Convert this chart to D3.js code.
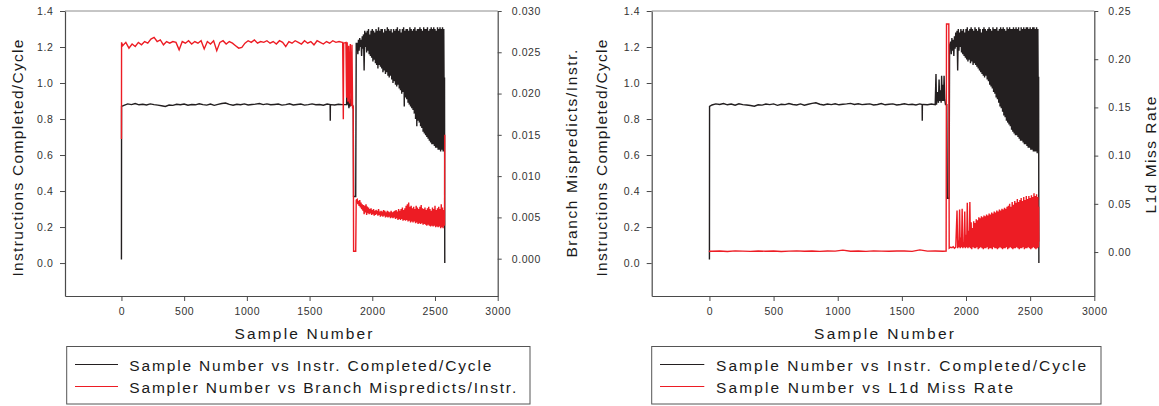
<!DOCTYPE html>
<html><head><meta charset="utf-8">
<script src="https://cdn.jsdelivr.net/npm/d3@7"></script>
<style>
body{margin:0;background:#fff;}
svg{display:block;font-family:"Liberation Sans",Arial,sans-serif;}
</style></head><body>
<svg id="chart" width="1159" height="406"></svg>
<script>
// ---------------- DATA ----------------
const xTicks = [0, 500, 1000, 1500, 2000, 2500, 3000];
const ipcTicks = [0, 0.2, 0.4, 0.6, 0.8, 1.0, 1.2, 1.4];
const branchTicks = [0, 0.005, 0.010, 0.015, 0.020, 0.025, 0.030];
const l1dTicks = [0, 0.05, 0.10, 0.15, 0.20, 0.25];

const xTitle = "Sample Number";
const ipcTitle = "Instructions Completed/Cycle";
const branchTitle = "Branch Mispredicts/Instr.";
const l1dTitle = "L1d Miss Rate";
const legendLeft = ["Sample Number vs Instr. Completed/Cycle", "Sampler Number vs Branch Mispredicts/Instr."];
const legendRight = ["Sample Number vs Instr. Completed/Cycle", "Sample Number vs L1d Miss Rate"];

// Left panel, IPC (black) – steady part sampled every 30 samples from 20
const ipcA_flat = [
  0.876,0.884,0.880,0.886,0.879,0.882,0.878,0.884,0.880,0.877,
  0.874,0.870,0.878,0.876,0.882,0.879,0.883,0.877,0.881,0.879,
  0.885,0.880,0.877,0.883,0.876,0.881,0.886,0.889,0.881,0.877,
  0.882,0.879,0.884,0.878,0.881,0.883,0.886,0.880,0.884,0.879,
  0.881,0.883,0.877,0.880,0.885,0.878,0.881,0.883,0.877,0.880,
  0.884,0.879,0.881,0.877,0.883,0.880,0.878,0.882,0.880,0.881];
const ipcA_marks = [[0,0.02],[1,0.87],[1664,0.88],[1665,0.79],[1666,0.88],[1795,0.88],[1797,0.97],[1800,0.88],
  [1808,0.90],[1814,0.86],[1820,0.93],[1826,0.87],[1833,0.91],[1840,0.88],[1848,0.87],[1851,0.37],[1868,0.37],
  [1872,1.22],[2576,1.03],[2578,0.0]];
// oscillating part, every 10 samples from 1880: peaks and troughs
const ipcA_hi = [
  1.22,1.24,1.25,1.24,1.26,1.27,1.29,1.28,1.29,1.30,
  1.27,1.29,1.30,1.29,1.28,1.30,1.29,1.31,1.29,1.30,
  1.30,1.28,1.30,1.29,1.31,1.30,1.29,1.30,1.28,1.30,
  1.29,1.30,1.31,1.29,1.30,1.28,1.30,1.31,1.29,1.30,
  1.30,1.29,1.31,1.30,1.29,1.30,1.31,1.29,1.30,1.30,
  1.31,1.30,1.29,1.31,1.30,1.30,1.31,1.29,1.30,1.31,
  1.30,1.31,1.30,1.29,1.31,1.30,1.31,1.30,1.31,1.30];
const ipcA_lo = [
  1.16,1.18,1.20,1.15,1.19,1.07,1.20,1.17,1.18,1.16,
  1.15,1.14,1.12,1.13,1.11,1.10,1.08,1.10,1.09,1.08,
  1.06,1.07,1.05,1.06,1.04,1.03,1.04,1.02,1.00,1.01,
  0.99,0.98,0.99,0.97,0.96,0.94,0.95,0.87,0.92,0.91,
  0.89,0.88,0.87,0.86,0.85,0.83,0.80,0.76,0.79,0.78,
  0.76,0.75,0.73,0.72,0.71,0.70,0.69,0.68,0.67,0.66,
  0.66,0.65,0.64,0.64,0.63,0.63,0.62,0.63,0.62,0.62];

// Left panel, branch mispredicts (red) – steady part every 25 samples from 10
const branch_flat = [
  0.0258,0.0262,0.0255,0.0260,0.0257,0.0262,0.0259,0.0263,0.0261,0.0266,
  0.0268,0.0263,0.0265,0.0259,0.0263,0.0261,0.0263,0.0262,0.0253,0.0263,
  0.0261,0.0264,0.0260,0.0263,0.0261,0.0264,0.0254,0.0263,0.0260,0.0264,
  0.0252,0.0262,0.0264,0.0260,0.0263,0.0261,0.0258,0.0255,0.0256,0.0261,
  0.0264,0.0262,0.0265,0.0261,0.0263,0.0262,0.0264,0.0261,0.0263,0.0260,
  0.0264,0.0262,0.0257,0.0263,0.0261,0.0264,0.0262,0.0260,0.0264,0.0261,
  0.0263,0.0259,0.0264,0.0262,0.0260,0.0263,0.0261,0.0264,0.0262,0.0263,
  0.0262];
const branch_marks = [[0,0.0145],[1,0.0262],[1764,0.0262],[1769,0.0169],[1772,0.0261],[1790,0.0262],[1795,0.0195],
  [1800,0.0262],[1806,0.0190],[1812,0.0258],[1818,0.0188],[1825,0.0260],[1832,0.0185],[1838,0.0259],[1843,0.0182],
  [1848,0.0185],[1851,0.0009],[1868,0.0009],[1872,0.0071],[2576,0.0041],[2578,0.0150]];
const branch_hi = [
  0.0072,0.0070,0.0071,0.0068,0.0066,0.0065,0.0064,0.0066,0.0063,0.0062,
  0.0060,0.0061,0.0059,0.0060,0.0058,0.0059,0.0058,0.0060,0.0057,0.0058,
  0.0057,0.0059,0.0058,0.0056,0.0058,0.0057,0.0056,0.0058,0.0056,0.0057,
  0.0058,0.0059,0.0057,0.0060,0.0058,0.0060,0.0062,0.0059,0.0061,0.0064,
  0.0066,0.0068,0.0063,0.0064,0.0061,0.0063,0.0060,0.0064,0.0062,0.0060,
  0.0063,0.0065,0.0061,0.0060,0.0062,0.0059,0.0061,0.0063,0.0060,0.0058,
  0.0062,0.0060,0.0064,0.0059,0.0061,0.0063,0.0060,0.0066,0.0062,0.0059];
const branch_lo = [
  0.0066,0.0064,0.0062,0.0060,0.0058,0.0054,0.0056,0.0053,0.0055,0.0054,
  0.0055,0.0053,0.0054,0.0052,0.0053,0.0054,0.0052,0.0053,0.0051,0.0052,
  0.0051,0.0052,0.0050,0.0051,0.0050,0.0051,0.0049,0.0050,0.0049,0.0050,
  0.0048,0.0049,0.0047,0.0048,0.0047,0.0048,0.0046,0.0047,0.0046,0.0047,
  0.0045,0.0046,0.0044,0.0045,0.0044,0.0045,0.0043,0.0044,0.0042,0.0043,
  0.0042,0.0043,0.0041,0.0042,0.0041,0.0040,0.0041,0.0040,0.0039,0.0040,
  0.0039,0.0040,0.0038,0.0039,0.0038,0.0039,0.0037,0.0038,0.0037,0.0040];

// Right panel, IPC (black)
const ipcB_flat = [
  0.878,0.884,0.881,0.886,0.879,0.883,0.877,0.885,0.880,0.878,
  0.875,0.871,0.879,0.877,0.883,0.880,0.884,0.876,0.882,0.880,
  0.886,0.881,0.878,0.884,0.877,0.882,0.887,0.890,0.882,0.878,
  0.883,0.880,0.885,0.879,0.882,0.884,0.887,0.881,0.885,0.880,
  0.882,0.884,0.878,0.881,0.886,0.879,0.882,0.884,0.878,0.881,
  0.885,0.880,0.882,0.878,0.884,0.881,0.879,0.883];
const ipcB_marks = [[0,0.02],[1,0.87],[1658,0.88],[1659,0.79],[1660,0.88],[1760,0.88],[1766,1.05],[1770,0.88],
  [1778,0.95],[1785,0.89],[1790,1.02],[1795,0.90],[1802,0.96],[1806,0.89],[1810,1.04],[1815,0.90],[1820,0.99],
  [1825,0.90],[1829,1.04],[1834,0.91],[1840,0.88],[1850,0.88],[1854,0.36],[1868,0.36],[1872,1.21],
  [2566,1.035],[2568,0.0]];
const ipcB_hi = [
  1.23,1.25,1.24,1.26,1.28,1.29,1.30,1.28,1.30,1.29,
  1.30,1.28,1.30,1.31,1.29,1.30,1.31,1.30,1.29,1.31,
  1.30,1.29,1.31,1.30,1.28,1.30,1.31,1.30,1.29,1.30,
  1.31,1.30,1.29,1.31,1.30,1.30,1.31,1.29,1.30,1.31,
  1.30,1.31,1.30,1.29,1.31,1.30,1.31,1.30,1.30,1.31,
  1.30,1.31,1.30,1.31,1.29,1.31,1.30,1.31,1.30,1.31,
  1.31,1.30,1.31,1.30,1.31,1.31,1.30,1.31,1.30];
const ipcB_lo = [
  1.16,1.18,1.15,1.19,1.20,1.07,1.18,1.20,1.17,1.16,
  1.15,1.14,1.13,1.12,1.13,1.11,1.12,1.10,1.11,1.10,
  1.09,1.08,1.07,1.06,1.05,1.04,1.03,1.04,1.02,1.01,
  0.99,0.98,0.97,0.95,0.94,0.92,0.91,0.89,0.87,0.86,
  0.84,0.82,0.81,0.79,0.78,0.77,0.76,0.74,0.73,0.72,
  0.71,0.71,0.70,0.69,0.68,0.68,0.67,0.66,0.66,0.65,
  0.64,0.64,0.63,0.63,0.62,0.62,0.62,0.61,0.62];

// Right panel, L1d miss rate (red) – steady part every 60 samples from 20
const l1d_flat = [
  0.0008,0.0010,0.0006,0.0012,0.0009,0.0007,0.0011,0.0008,0.0010,0.0006,
  0.0009,0.0012,0.0008,0.0010,0.0007,0.0011,0.0009,0.0020,0.0008,0.0010,
  0.0007,0.0012,0.0009,0.0008,0.0011,0.0010,0.0007,0.0022,0.0009,0.0010,0.0008];
const l1d_marks = [[0,0.0],[1,0.0008],[1845,0.001],[1848,0.2365],[1866,0.2365],[1869,0.004],[1880,0.005],
  [1890,0.0045],[1900,0.0055],[1910,0.004],[1920,0.005],[2566,0.047],[2568,0.0107]];
const l1d_hi = [
  0.043,0.012,0.044,0.015,0.045,0.010,0.042,0.018,0.051,0.022,
  0.052,0.031,0.025,0.032,0.030,0.034,0.033,0.036,0.035,0.037,
  0.036,0.038,0.037,0.039,0.038,0.040,0.039,0.041,0.040,0.042,
  0.041,0.043,0.042,0.044,0.043,0.045,0.044,0.046,0.045,0.047,
  0.048,0.050,0.047,0.052,0.049,0.053,0.051,0.055,0.052,0.054,
  0.056,0.053,0.057,0.054,0.058,0.055,0.058,0.056,0.059,0.057,
  0.061,0.058,0.060,0.057];
const l1d_lo = [
  0.004,0.005,0.004,0.005,0.004,0.005,0.004,0.005,0.004,0.005,
  0.004,0.003,0.005,0.004,0.004,0.005,0.003,0.004,0.005,0.004,
  0.003,0.004,0.004,0.005,0.003,0.004,0.004,0.003,0.005,0.004,
  0.004,0.003,0.004,0.005,0.004,0.003,0.004,0.004,0.005,0.003,
  0.004,0.005,0.004,0.003,0.004,0.004,0.005,0.004,0.003,0.004,
  0.004,0.005,0.003,0.004,0.004,0.005,0.004,0.003,0.004,0.005,
  0.004,0.003,0.004,0.005];

// ---------------- DRAWING ----------------
const BLACK = "#231f20", RED = "#ed1c24";
const svg = d3.select("#chart");

function buildSeries(flat, flatStart, flatStep, marks, hi, lo, bandStart, bandStep) {
  const pts = [];
  flat.forEach((v, i) => pts.push([flatStart + i * flatStep, v]));
  marks.forEach(m => pts.push(m));
  hi.forEach((v, i) => {
    const s = bandStart + i * bandStep;
    pts.push([s, v]);
    pts.push([s + bandStep / 2, lo[i]]);
  });
  pts.sort((a, b) => a[0] - b[0]);
  return pts;
}

function drawPanel(p) {
  const g = svg.append("g");
  const x = d3.scaleLinear().domain([-450, 3000]).range([p.left, p.right]);
  const yL = d3.scaleLinear().domain([-0.183, 1.4]).range([p.bottom, p.top]);
  const yR = d3.scaleLinear().domain(p.rDomain).range([p.bottom, p.top]);

  // top frame line
  g.append("line").attr("x1", p.left).attr("x2", p.right).attr("y1", p.top).attr("y2", p.top)
    .attr("stroke", "#8c8c8c").attr("stroke-width", 1);

  const styleAxis = (a) => {
    a.select(".domain").attr("stroke", "#4a4a4a").attr("stroke-width", 1.2);
    a.selectAll(".tick line").attr("stroke", "#4a4a4a");
    a.selectAll(".tick text").attr("fill", "#333").attr("font-size", "10.5px")
      .attr("letter-spacing", "0.6px").attr("font-family", "Liberation Sans, Arial, sans-serif");
  };

  g.append("g").attr("transform", `translate(0,${p.bottom})`)
    .call(d3.axisBottom(x).tickValues(xTicks).tickSize(5).tickSizeOuter(0).tickPadding(7).tickFormat(d3.format("d")))
    .call(styleAxis);
  g.append("g").attr("transform", `translate(${p.left},0)`)
    .call(d3.axisLeft(yL).tickValues(ipcTicks).tickSize(5).tickSizeOuter(0).tickPadding(6.5).tickFormat(d3.format(".1f")))
    .call(styleAxis);
  g.append("g").attr("transform", `translate(${p.right},0)`)
    .call(d3.axisRight(yR).tickValues(p.rTicks).tickSize(4).tickSizeOuter(0).tickPadding(10).tickFormat(d3.format(p.rFormat)))
    .call(styleAxis);

  // series
  const lineL = d3.line().x(d => x(d[0])).y(d => yL(d[1]));
  const lineR = d3.line().x(d => x(d[0])).y(d => yR(d[1]));
  g.append("path").attr("d", lineL(p.black)).attr("fill", "none").attr("stroke", BLACK)
    .attr("stroke-width", 1.4).attr("stroke-linejoin", "miter");
  g.append("path").attr("d", lineR(p.red)).attr("fill", "none").attr("stroke", RED)
    .attr("stroke-width", 1.4).attr("stroke-linejoin", "miter");

  // titles
  const T = (txt, len) => g.append("text").text(txt).attr("font-size", "15.5px").attr("fill", "#1a1a1a")
    .attr("text-anchor", "middle").attr("textLength", len).attr("lengthAdjust", "spacing");
  T(xTitle, p.xTitleLen).attr("x", p.xTitleX).attr("y", 338.5);
  T(ipcTitle, p.lTitleLen).attr("transform", `translate(${p.lTitleX},158) rotate(-90)`);
  T(p.rTitle, p.rTitleLen).attr("transform", `translate(${p.rTitleX},${p.rTitleY}) rotate(-90)`);

  // legend
  const lg = g.append("g");
  lg.append("rect").attr("x", p.legX0).attr("y", 346.5).attr("width", p.legX1 - p.legX0).attr("height", 57.5)
    .attr("fill", "#fff").attr("stroke", "#555").attr("stroke-width", 1);
  const rows = [{c: BLACK, y: 364.5, tb: 370.7}, {c: RED, y: 386.5, tb: 393.2}];
  rows.forEach((r, i) => {
    lg.append("line").attr("x1", p.legLine[0]).attr("x2", p.legLine[1]).attr("y1", r.y).attr("y2", r.y)
      .attr("stroke", r.c).attr("stroke-width", 1);
    lg.append("text").text(p.legend[i]).attr("x", p.legTextX).attr("y", r.tb)
      .attr("font-size", "15.5px").attr("fill", "#1a1a1a")
      .attr("textLength", p.legLens[i]).attr("lengthAdjust", "spacing");
  });
}

drawPanel({
  left: 65, right: 497.7, top: 11, bottom: 296,
  rDomain: [-0.00452, 0.030], rTicks: branchTicks, rFormat: ".3f",
  black: buildSeries(ipcA_flat, 20, 30, ipcA_marks, ipcA_hi, ipcA_lo, 1880, 10),
  red: buildSeries(branch_flat, 10, 25, branch_marks, branch_hi, branch_lo, 1880, 10),
  xTitleX: 303.5, xTitleLen: 138,
  lTitleX: 23.3, lTitleLen: 237,
  rTitle: branchTitle, rTitleX: 577, rTitleY: 153.6, rTitleLen: 208,
  legX0: 66.7, legX1: 530, legLine: [75, 118], legTextX: 129.3,
  legend: legendLeft, legLens: [362, 387]
});

drawPanel({
  left: 651.7, right: 1094.3, top: 11, bottom: 296,
  rDomain: [-0.0456, 0.25], rTicks: l1dTicks, rFormat: ".2f",
  black: buildSeries(ipcB_flat, 20, 30, ipcB_marks, ipcB_hi, ipcB_lo, 1880, 10),
  red: buildSeries(l1d_flat, 20, 60, l1d_marks, l1d_hi, l1d_lo, 1930, 10),
  xTitleX: 884, xTitleLen: 140,
  lTitleX: 606.7, lTitleLen: 237,
  rTitle: l1dTitle, rTitleX: 1156, rTitleY: 155, rTitleLen: 117,
  legX0: 651.7, legX1: 1101, legLine: [660, 704.3], legTextX: 716,
  legend: legendRight, legLens: [370, 297]
});
</script>
</body></html>
